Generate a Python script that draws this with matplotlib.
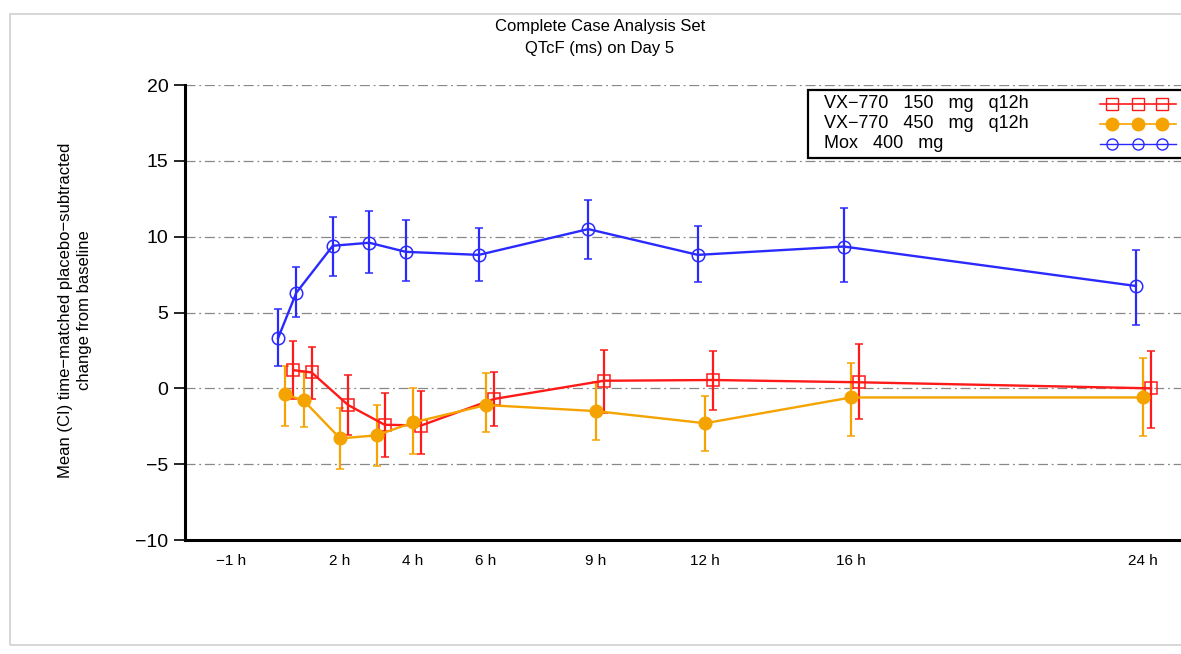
import matplotlib
matplotlib.use("Agg")
import matplotlib.pyplot as plt
from matplotlib.lines import Line2D
from matplotlib.patches import Rectangle

# nominal time points (h) on Day 5
hours = [0.5, 1, 2, 3, 4, 6, 9, 12, 16, 24]

# VX-770 150 mg q12h
mean_150 = [1.2, 1.05, -1.1, -2.4, -2.45, -0.7, 0.5, 0.55, 0.4, 0.0]
lo_150 = [-0.7, -0.7, -3.1, -4.5, -4.35, -2.5, -1.6, -1.4, -2.0, -2.6]
hi_150 = [3.1, 2.75, 0.9, -0.3, -0.15, 1.05, 2.55, 2.45, 2.95, 2.45]

# VX-770 450 mg q12h
mean_450 = [-0.4, -0.8, -3.3, -3.1, -2.25, -1.1, -1.5, -2.3, -0.6, -0.6]
lo_450 = [-2.5, -2.55, -5.3, -5.1, -4.3, -2.9, -3.4, -4.1, -3.15, -3.15]
hi_450 = [1.45, 1.05, -1.3, -1.1, 0.0, 1.0, 0.4, -0.5, 1.7, 2.0]

# Moxifloxacin 400 mg
mean_mox = [3.3, 6.3, 9.4, 9.6, 9.0, 8.8, 10.5, 8.8, 9.35, 6.75]
lo_mox = [1.45, 4.7, 7.4, 7.6, 7.05, 7.1, 8.5, 7.0, 7.0, 4.2]
hi_mox = [5.25, 8.0, 11.3, 11.7, 11.1, 10.6, 12.45, 10.7, 11.9, 9.15]

series_labels = ["VX\u2212770   150   mg   q12h", "VX\u2212770   450   mg   q12h", "Mox   400   mg"]
xtick_pos = [-1, 2, 4, 6, 9, 12, 16, 24]
xtick_labels = ["\u22121 h", "2 h", "4 h", "6 h", "9 h", "12 h", "16 h", "24 h"]
ytick_pos = [-10, -5, 0, 5, 10, 15, 20]

RED = "#ff1a1a"
ORANGE = "#f5a300"
BLUE = "#2a2aff"

W, H = 1181, 654

plt.rcParams["font.family"] = ["Liberation Sans", "DejaVu Sans"]
plt.rcParams["axes.unicode_minus"] = True

fig = plt.figure(figsize=(W / 100, H / 100), dpi=100)
ax = fig.add_axes([0.1566, 0.1743, 0.8577, 0.6957])

# light outer frame of the original page
fig.patches.append(Rectangle((10 / W, 1 - 645 / H), 1.0, (645 - 14) / H,
                             transform=fig.transFigure, fill=False,
                             edgecolor="#d0d0d0", linewidth=1.2))

ax.set_xlim(-2.25, 25.5)
ax.set_ylim(-10, 20)

for y in ytick_pos[1:]:
    ax.axhline(y, color="#888888", linewidth=0.9, linestyle=(0, (8, 3, 1.5, 3)), zorder=0)


def draw(mean, lo, hi, shift, color, marker, mfc):
    xs = [h + shift for h in hours]
    yerr = [[m - l for m, l in zip(mean, lo)],
            [h - m for m, h in zip(mean, hi)]]
    ax.errorbar(xs, mean, yerr=yerr, color=color, linewidth=1.7,
                elinewidth=1.6, capsize=3, capthick=1.2, marker=marker,
                markersize=9, markerfacecolor=mfc, markeredgecolor=color,
                markeredgewidth=1.1)


draw(mean_150, lo_150, hi_150, 0.22, RED, "s", "none")
draw(mean_450, lo_450, hi_450, 0.0, ORANGE, "o", ORANGE)
draw(mean_mox, lo_mox, hi_mox, -0.2, BLUE, "o", "none")

ax.set_xticks(xtick_pos)
ax.set_xticklabels(xtick_labels, fontsize=11)
ax.tick_params(axis="x", length=0, pad=10)
ax.set_yticks(ytick_pos)
ax.set_yticklabels([str(v).replace("-", "\u2212") for v in ytick_pos], fontsize=14)
ax.tick_params(axis="y", length=8, width=1.2, direction="out", pad=4)

for side in ("top", "right"):
    ax.spines[side].set_visible(False)
ax.spines["left"].set_linewidth(2.2)
ax.spines["bottom"].set_linewidth(2.2)

fig.text(75 / W, 1 - 310 / H,
         "Mean (CI) time\u2212matched placebo\u2212subtracted\nchange from baseline",
         rotation=90, ha="center", va="center", fontsize=12, fontstretch="condensed",
         linespacing=1.25)
fig.text(600 / W, 1 - 27 / H, "Complete Case Analysis Set",
         ha="center", va="center", fontsize=12)
fig.text(600 / W, 1 - 48 / H, "QTcF (ms) on Day 5",
         ha="center", va="center", fontsize=12)

# legend box drawn by hand: labels on the left, sample lines on the right,
# the box runs off the right edge like in the original
fig.patches.append(Rectangle((808 / W, 1 - 158 / H), 400 / W, 68 / H,
                             transform=fig.transFigure, fill=True, facecolor="white",
                             edgecolor="black", linewidth=1.6, zorder=5))
leg_styles = [
    dict(color=RED, marker="s", markerfacecolor="none", markersize=8, linewidth=1.2),
    dict(color=ORANGE, marker="o", markerfacecolor=ORANGE, markersize=9, linewidth=1.2),
    dict(color=BLUE, marker="o", markerfacecolor="none", markersize=8, linewidth=1.0),
]
for i, (label, style) in enumerate(zip(series_labels, leg_styles)):
    ypix = 104 + i * 20
    fig.text(824 / W, 1 - ypix / H, label, ha="left", va="center", fontsize=13, zorder=6)
    fig.lines.append(Line2D([1100 / W, 1112 / W, 1138 / W, 1162 / W, 1176 / W],
                            [1 - ypix / H] * 5, markevery=[1, 2, 3],
                            transform=fig.transFigure, zorder=6, **style))

fig.savefig("out.png", dpi=100)
